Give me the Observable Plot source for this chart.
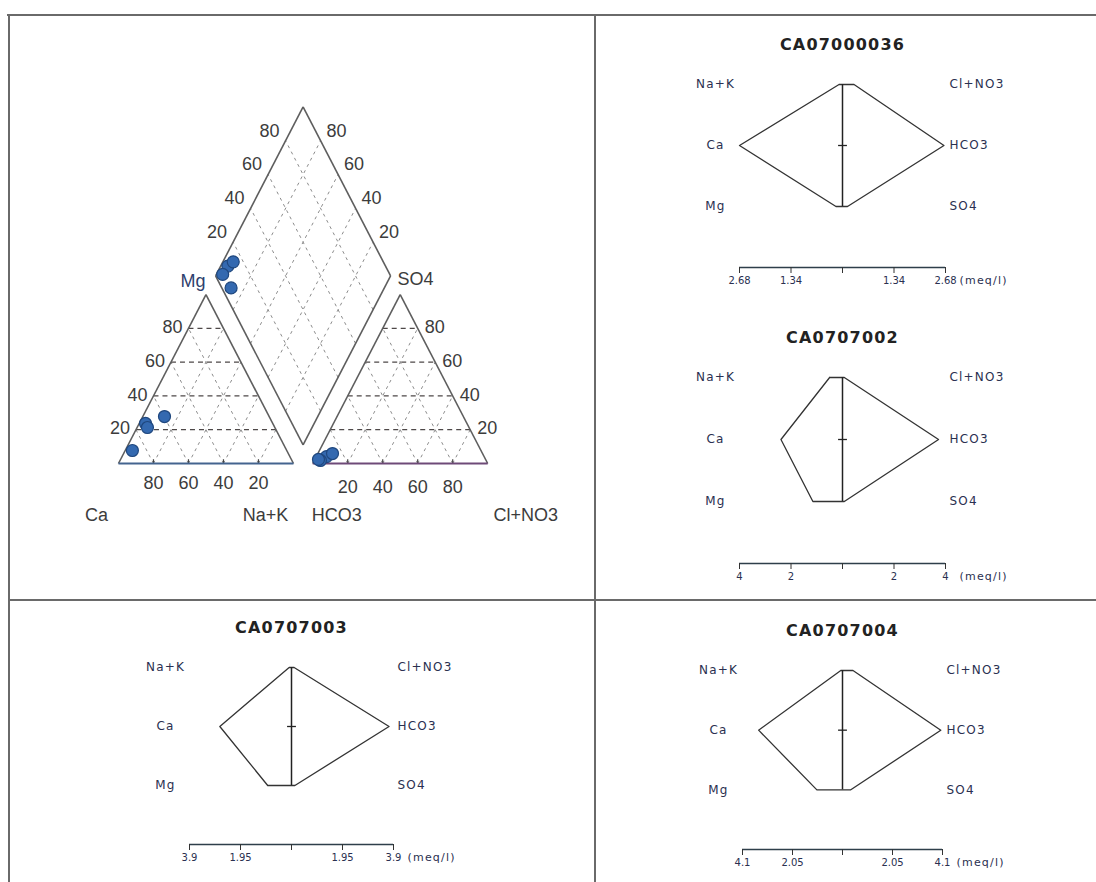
<!DOCTYPE html>
<html><head><meta charset="utf-8">
<script src="https://cdn.jsdelivr.net/npm/d3@7"></script>
<script src="https://cdn.jsdelivr.net/npm/@observablehq/plot@0.6"></script>
<style>
body{margin:0;background:#fff;}
#wrap{position:relative;width:1096px;height:882px;overflow:hidden;background:#fff;}
.hl{position:absolute;height:2px;background:#6a6a6a;}
.vl{position:absolute;width:2px;background:#6a6a6a;}
g[aria-label="x-axis tick label"]{font-size:10px;letter-spacing:0;}
</style></head><body><div id="wrap"></div>
<script>
// ---------------- DATA ----------------
const samples = ["CA07000036", "CA0707002", "CA0707003", "CA0707004"];
// Piper diagram, percent of meq
const pCa    = [88.2, 59.8, 72.7, 72.8];
const pMg    = [7.7, 27.8, 23.7, 21.3];
const pNaK   = [4.1, 12.4, 3.6, 5.9];
const pHCO3  = [90.05, 94.7, 95.5, 85.75];
const pSO4   = [4.1, 1.8, 2.4, 5.9];
const pClNO3 = [5.85, 3.5, 2.1, 8.35];
// Stiff diagrams, meq/l
const sNaK   = [0.09, 0.50, 0.09, 0.07];
const sCa    = [2.68, 2.39, 2.74, 3.44];
const sMg    = [0.17, 1.15, 0.91, 1.05];
const sClNO3 = [0.30, 0.07, 0.10, 0.43];
const sHCO3  = [2.64, 3.73, 3.73, 4.03];
const sSO4   = [0.13, 0.07, 0.13, 0.34];
const stiffMax = [2.68, 4, 3.9, 4.1];
const cationLabels = ["Na+K", "Ca", "Mg"];
const anionLabels = ["Cl+NO3", "HCO3", "SO4"];
const piperTicks = [20, 40, 60, 80];

// ---------------- LAYOUT ----------------
const wrap = document.getElementById("wrap");
function line(cls, l, t, w, h) {
  const d = document.createElement("div"); d.className = cls;
  d.style.left = l + "px"; d.style.top = t + "px";
  if (w != null) d.style.width = w + "px";
  if (h != null) d.style.height = h + "px";
  wrap.appendChild(d);
}
line("hl", 7, 14, 1089, null);
line("vl", 8, 14, null, 868);
line("vl", 594, 14, null, 868);
line("hl", 8, 599, 1088, null);

// ---------------- PIPER ----------------
const G = 11, H = Math.sqrt(3) / 2 * 100;
const AX0 = 100 + G;
function tri(x0, r, t) { return [x0 + 100 * r + 50 * t, H * t]; }
const B = [100 + G / 2, G * Math.sqrt(3) / 2];
function dia(u, v) { return [B[0] - 50 * u + 50 * v, B[1] + H * (u + v)]; }
function seg(p, q) { return {x1: p[0], y1: p[1], x2: q[0], y2: q[1]}; }

const fr = piperTicks.map(d => d / 100);
const majorGrid = [], minorGrid = [];
for (const x0 of [0, AX0]) {
  for (const p of fr) {
    majorGrid.push(seg(tri(x0, 0, p), tri(x0, 1 - p, p)));
    minorGrid.push(seg(tri(x0, p, 0), tri(x0, p, 1 - p)));
    minorGrid.push(seg(tri(x0, 1 - p, 0), tri(x0, 0, 1 - p)));
  }
}
for (const p of fr) {
  minorGrid.push(seg(dia(p, 0), dia(p, 1)));
  minorGrid.push(seg(dia(0, p), dia(1, p)));
}
const edges = [
  seg(tri(0, 0, 0), tri(0, 0, 1)), seg(tri(0, 0, 1), tri(0, 1, 0)),
  seg(tri(AX0, 0, 0), tri(AX0, 0, 1)), seg(tri(AX0, 0, 1), tri(AX0, 1, 0)),
  seg(dia(0, 0), dia(1, 0)), seg(dia(1, 0), dia(1, 1)),
  seg(dia(1, 1), dia(0, 1)), seg(dia(0, 1), dia(0, 0))
];
const baseC = [seg(tri(0, 0, 0), tri(0, 1, 0))];
const baseA = [seg(tri(AX0, 0, 0), tri(AX0, 1, 0))];
const baseTicks = [];
for (const x0 of [0, AX0]) for (const p of fr) {
  const a = tri(x0, p, 0); baseTicks.push(seg(a, [a[0], a[1] + 2.2]));
}

const ptsC = samples.map((s, i) => { const q = tri(0, pNaK[i] / 100, pMg[i] / 100); return {x: q[0], y: q[1]}; });
const ptsA = samples.map((s, i) => { const q = tri(AX0, pClNO3[i] / 100, pSO4[i] / 100); return {x: q[0], y: q[1]}; });
const ptsD = samples.map((s, i) => { const q = dia(1 - pNaK[i] / 100, 1 - pHCO3[i] / 100); return {x: q[0], y: q[1]}; });
const pts = ptsC.concat(ptsA, ptsD);

function lab(q, text, o) { return Object.assign({x: q[0], y: q[1], text}, o); }
const labels = [];
piperTicks.forEach((t, k) => {
  const p = fr[k];
  labels.push(lab(tri(0, 0, p), t, {a: "end", dx: -6, dy: -1}));
  labels.push(lab(tri(0, p, 0), 100 - t, {a: "middle", dx: 0, dy: 20}));
  labels.push(lab(tri(AX0, 1 - p, p), t, {a: "start", dx: 7, dy: -1}));
  labels.push(lab(tri(AX0, p, 0), t, {a: "middle", dx: 0, dy: 24}));
  labels.push(lab(dia(1, p), t, {a: "end", dx: -6, dy: -10}));
  labels.push(lab(dia(p, 1), t, {a: "start", dx: 6, dy: -10}));
});
labels.push(lab(tri(0, 0, 0), "Ca", {a: "middle", dx: -22, dy: 52}));
labels.push(lab(tri(0, 1, 0), "Na+K", {a: "middle", dx: -28, dy: 52}));
labels.push(lab(tri(AX0, 0, 0), "HCO3", {a: "middle", dx: 24, dy: 52}));
labels.push(lab(tri(AX0, 1, 0), "Cl+NO3", {a: "middle", dx: 38, dy: 52}));
labels.push(lab(dia(1, 0), "Mg", {a: "end", dx: -10, dy: 5, c: "#2e3f6e"}));
labels.push(lab(dia(0, 1), "SO4", {a: "start", dx: 7, dy: 3}));

const textMarks = [];
for (const a of ["start", "middle", "end"]) {
  const grp = d3.groups(labels.filter(l => l.a === a), l => l.dx + "," + l.dy + "," + (l.c || ""));
  for (const [, arr] of grp) {
    textMarks.push(Plot.text(arr, {x: "x", y: "y", text: "text", textAnchor: a, dx: arr[0].dx, dy: arr[0].dy, fill: arr[0].c || "#3c3c3c", fontSize: 18}));
  }
}

const piper = Plot.plot({
  width: 585, height: 583, margin: 0,
  x: {domain: [-61.7, 272.6], axis: null},
  y: {domain: [-69.7, 229.1], axis: null},
  style: {fontFamily: "'Liberation Sans', Arial, sans-serif", background: "transparent"},
  marks: [
    Plot.link(minorGrid, {x1: "x1", y1: "y1", x2: "x2", y2: "y2", stroke: "#8c8c8c", strokeWidth: 1, strokeDasharray: "3,4"}),
    Plot.link(majorGrid, {x1: "x1", y1: "y1", x2: "x2", y2: "y2", stroke: "#4e4848", strokeWidth: 1.2, strokeDasharray: "5,4"}),
    Plot.link(edges, {x1: "x1", y1: "y1", x2: "x2", y2: "y2", stroke: "#5e5e5e", strokeWidth: 1.6}),
    Plot.link(baseTicks, {x1: "x1", y1: "y1", x2: "x2", y2: "y2", stroke: "#444", strokeWidth: 1.2}),
    Plot.link(baseC, {x1: "x1", y1: "y1", x2: "x2", y2: "y2", stroke: "#44648f", strokeWidth: 1.8}),
    Plot.link(baseA, {x1: "x1", y1: "y1", x2: "x2", y2: "y2", stroke: "#6e4a78", strokeWidth: 1.8}),
    Plot.dot(pts, {x: "x", y: "y", r: 6, fill: "#3469b0", stroke: "#1f477e", strokeWidth: 1.2}),
    ...textMarks
  ]
});
piper.style.position = "absolute"; piper.style.left = "10px"; piper.style.top = "16px";
wrap.appendChild(piper);

// ---------------- STIFF ----------------
const stiffLayout = [
  {cx: 842, y0: 84, half: 103, span: 183},
  {cx: 842, y0: 377, half: 103, span: 186},
  {cx: 291, y0: 667, half: 102, span: 177},
  {cx: 842, y0: 670, half: 100, span: 179}
];
const dashSym = {draw(ctx, size) { const r = Math.sqrt(size) / 2; ctx.moveTo(-r, 0); ctx.lineTo(r, 0); }};

function stiffPlot(i) {
  const M = stiffMax[i], L = stiffLayout[i];
  const side = 140, mt = 56, mb = 34;
  const poly = [
    {x: -sNaK[i], y: 0}, {x: -sCa[i], y: 1}, {x: -sMg[i], y: 2},
    {x: sSO4[i], y: 2}, {x: sHCO3[i], y: 1}, {x: sClNO3[i], y: 0}, {x: -sNaK[i], y: 0}
  ];
  const ticks = [-M, -M / 2, 0, M / 2, M];
  const p = Plot.plot({
    width: 2 * L.half + 2 * side, height: L.span + mt + mb,
    marginLeft: side, marginRight: side, marginTop: mt, marginBottom: mb,
    x: {domain: [-M, M]},
    y: {domain: [0, 3], reverse: true, axis: null},
    style: {fontFamily: "'DejaVu Sans', sans-serif", fontSize: "11px", color: "#2a3050", letterSpacing: "1.2px", background: "transparent"},
    marks: [
      Plot.text([samples[i]], {frameAnchor: "top", dy: -46, fontSize: 16, fontWeight: "bold", fill: "#222"}),
      Plot.text(cationLabels, {x: () => -M, y: (d, k) => k, text: d => d, dx: -24, textAnchor: "middle", fontSize: 12}),
      Plot.text(anionLabels, {x: () => M, y: (d, k) => k, text: d => d, dx: 4, textAnchor: "start", fontSize: 12}),
      Plot.ruleY([3], {x1: -M, x2: M, stroke: "#2e3f4a", strokeWidth: 1.3}),
      Plot.axisX({ticks, tickSize: 6, tickPadding: 3, label: null, stroke: "#333",
        tickFormat: d => d === 0 ? "" : String(+Math.abs(d).toFixed(2))}),
      Plot.text(["(meq/l)"], {x: () => M, y: () => 3, dx: 14, dy: 9, lineAnchor: "top", textAnchor: "start"}),
      Plot.line(poly, {x: "x", y: "y", stroke: "#333", strokeWidth: 1.3, curve: "linear"}),
      Plot.ruleX([0], {y1: 0, y2: 2, stroke: "#222", strokeWidth: 1.5}),
      Plot.dot([0], {x: d => d, y: () => 1, r: 5, symbol: dashSym, stroke: "#222", strokeWidth: 1.3})
    ]
  });
  p.style.position = "absolute";
  p.style.left = (L.cx - L.half - side) + "px";
  p.style.top = (L.y0 - mt) + "px";
  wrap.appendChild(p);
}
samples.forEach((s, i) => stiffPlot(i));
</script></body></html>
